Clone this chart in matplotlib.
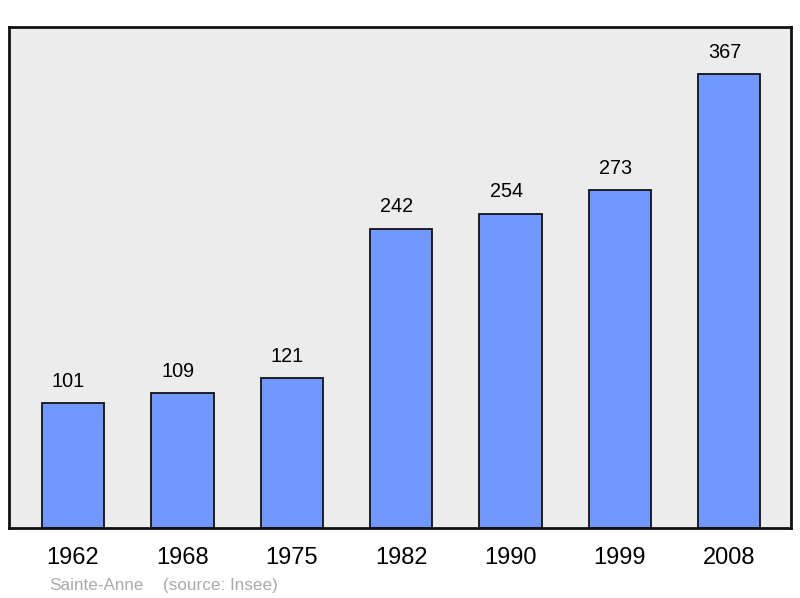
import matplotlib.pyplot as plt

years = ['1962', '1968', '1975', '1982', '1990', '1999', '2008']
population = [101, 109, 121, 242, 254, 273, 367]

plt.rcParams['font.family'] = ['Liberation Sans', 'DejaVu Sans']

fig = plt.figure(figsize=(8, 5.98), dpi=100)
ax = fig.add_axes([9 / 800, 1 - 528 / 598, 782 / 800, 501 / 598])
ax.set_facecolor('#ececec')

x = list(range(len(years)))
bars = ax.bar(x, population, width=0.57, color='#7098ff', edgecolor='#111111',
              linewidth=1.3, zorder=2)
# value labels sit a little left of the bar centre in the original
for b, v in zip(bars, population):
    ax.text(b.get_x() + b.get_width() / 2 - 0.04, v + 10, str(v), ha='center',
            va='bottom', fontsize=14.3)

ax.set_xlim(-0.585, 6.565)
ax.set_ylim(0, 405)
ax.set_yticks([])
ax.set_xticks(x)
ax.set_xticklabels(years, fontsize=17)
ax.tick_params(axis='x', length=0, pad=14)
for s in ax.spines.values():
    s.set_linewidth(2)
    s.set_color('#111111')

fig.text(49 / 800, 1 - 590 / 598, 'Sainte-Anne', color='#aaaaaa', fontsize=12.3)
fig.text(163 / 800, 1 - 590 / 598, '(source: Insee)', color='#aaaaaa', fontsize=12.3)

fig.savefig('out.png')
